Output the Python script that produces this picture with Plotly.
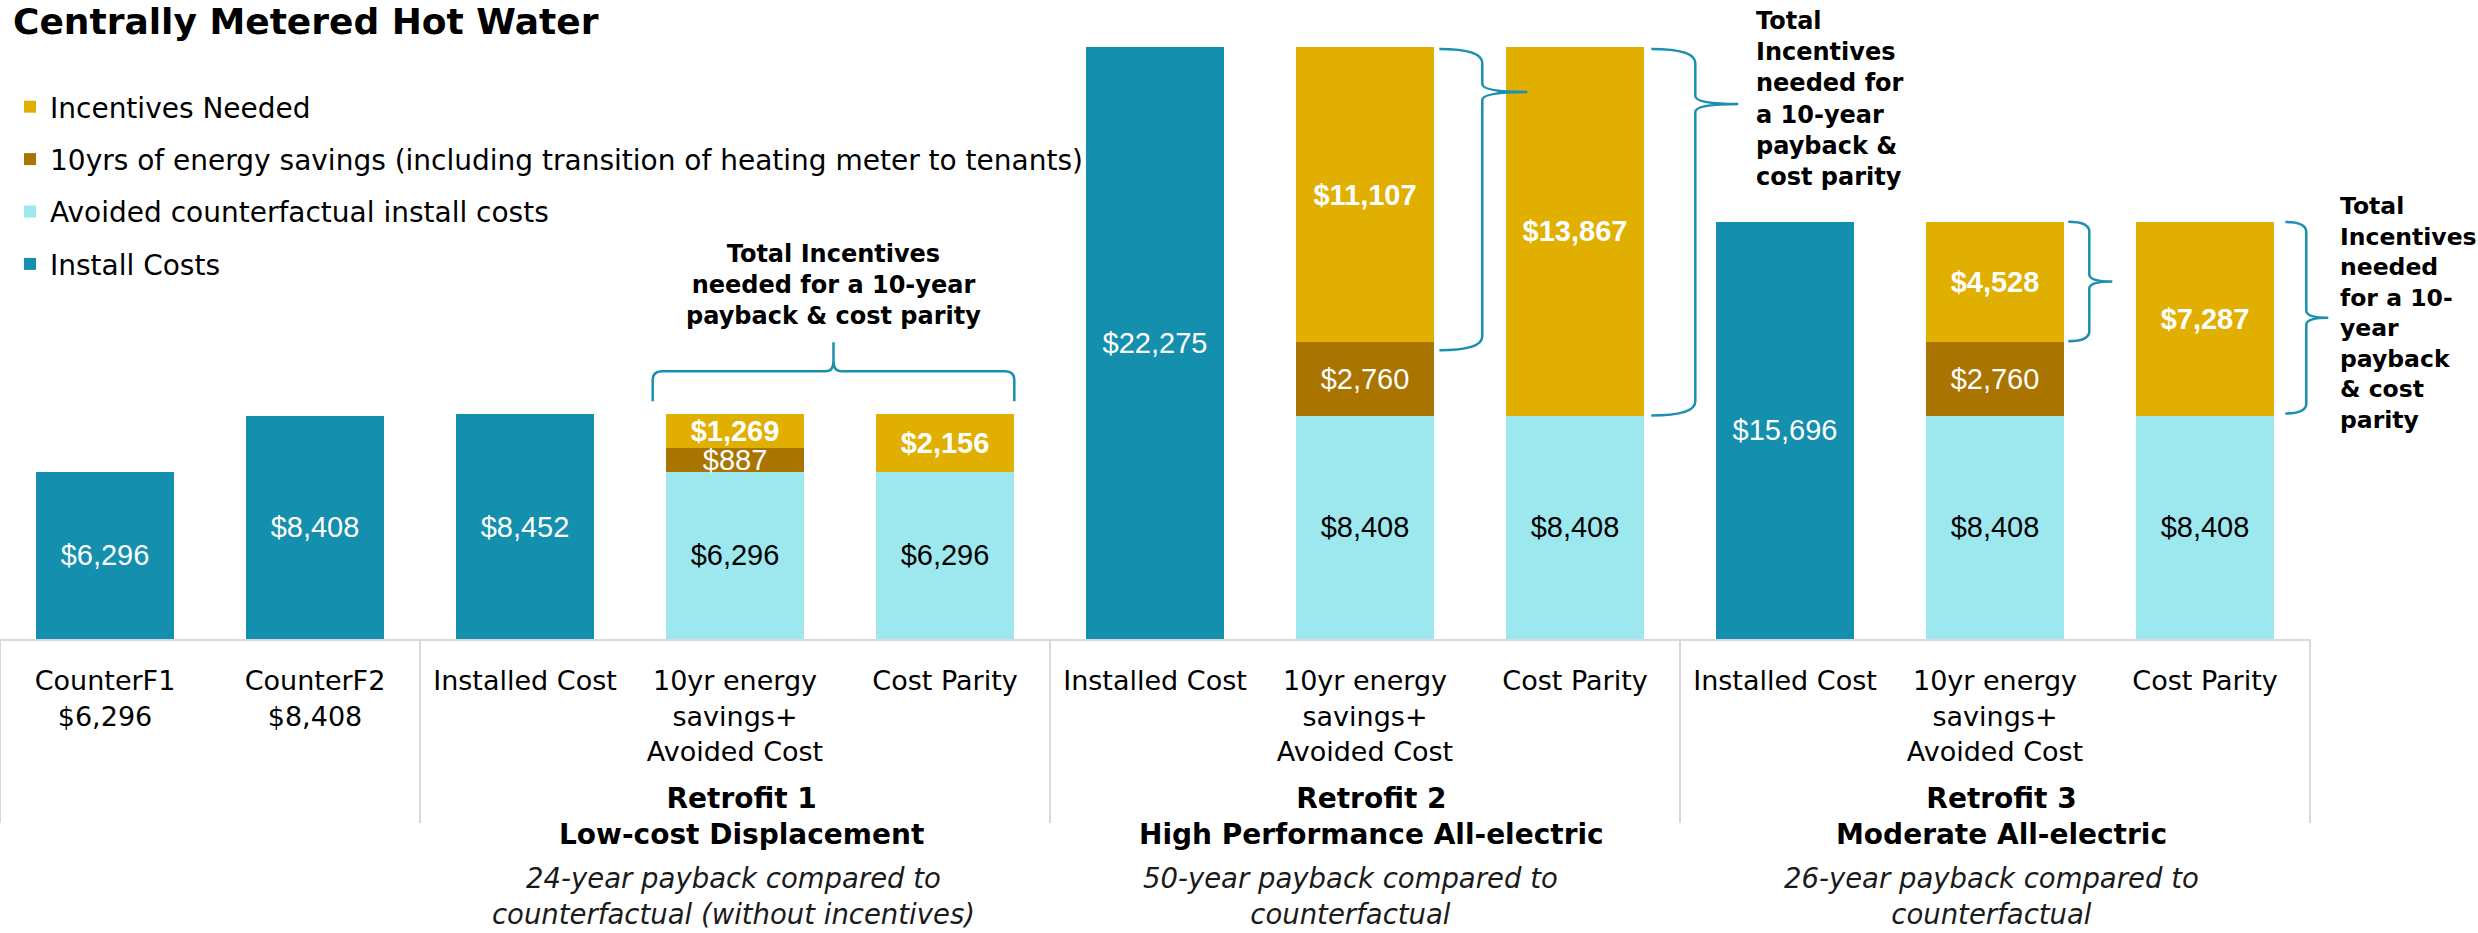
import plotly.graph_objects as go

# ---------------- data ----------------
title_text = "Centrally Metered Hot Water"
x_positions = list(range(11))
tick_labels = [
    "CounterF1<br>$6,296", "CounterF2<br>$8,408",
    "Installed Cost", "10yr energy<br>savings+<br>Avoided Cost", "Cost Parity",
    "Installed Cost", "10yr energy<br>savings+<br>Avoided Cost", "Cost Parity",
    "Installed Cost", "10yr energy<br>savings+<br>Avoided Cost", "Cost Parity",
]
install_costs = [6296, 8408, 8452, None, None, 22275, None, None, 15696, None, None]
avoided_costs = [None, None, None, 6296, 6296, None, 8408, 8408, None, 8408, 8408]
energy_savings = [None, None, None, 887, None, None, 2760, None, None, 2760, None]
incentives = [None, None, None, 1269, 2156, None, 11107, 13867, None, 4528, 7287]

series_names = [
    "Install Costs",
    "Avoided counterfactual install costs",
    "10yrs of energy savings (including transition of heating meter to tenants)",
    "Incentives Needed",
]
legend_ranks = [4, 3, 2, 1]
group_titles = [
    "Retrofit 1<br>Low-cost Displacement",
    "Retrofit 2<br>High Performance All-electric",
    "Retrofit 3<br>Moderate All-electric",
]
group_notes = [
    "24-year payback compared to<br>counterfactual (without incentives)",
    "50-year payback compared to<br>counterfactual",
    "26-year payback compared to<br>counterfactual",
]
group_centers = [3, 6, 9]
group_bounds = [-0.5, 1.5, 4.5, 7.5, 10.5]
brace_notes = [
    "Total Incentives<br>needed for a 10-year<br>payback & cost parity",
    "Total<br>Incentives<br>needed for<br>a 10-year<br>payback &<br>cost parity",
    "Total<br>Incentives<br>needed<br>for a 10-<br>year<br>payback<br>& cost<br>parity",
]

# ---------------- style / layout constants ----------------
FIG_W, FIG_H = 2478, 933
ML, MR, MT, MB = 0, 168, 47, 294
W = FIG_W - ML - MR
H = FIG_H - MT - MB
YMAX = 22275
XMIN, XMAX = -0.5, 10.5
BARGAP = 0.34

C_INSTALL = "#148FAE"
C_AVOID = "#9DE8EF"
C_SAVE = "#A97400"
C_INCENT = "#E1AF00"
C_BRACE = "#1A8FB0"
C_SEP = "#D9D9D9"

FONT = "DejaVu Sans"
NUMFONT = "Liberation Sans, Arial"


def fmt(vals):
    return [None if v is None else f"${v:,}" for v in vals]


def bx(xd):
    return ML + (xd - XMIN) / (XMAX - XMIN) * W


def vy(v):
    return MT + (1 - v / YMAX) * H


HALF = (1 - BARGAP) / 2 * W / (XMAX - XMIN)


def paper(xp, yp):
    return (xp - ML) / W, (MT + H - yp) / H


def P(xp, yp):
    a, b = paper(xp, yp)
    return f"{a:.6f},{b:.6f}"


def stack_top(i):
    return sum(v for v in (avoided_costs[i], energy_savings[i], incentives[i]) if v)


# ---------------- traces ----------------
fig = go.Figure()
trace_specs = [
    (install_costs, C_INSTALL, "white", "normal"),
    (avoided_costs, C_AVOID, "black", "normal"),
    (energy_savings, C_SAVE, "white", "normal"),
    (incentives, C_INCENT, "white", "bold"),
]
for name, rank, (vals, col, tcol, wt) in zip(series_names, legend_ranks, trace_specs):
    fig.add_trace(go.Bar(
        x=x_positions, y=vals, name=name, legendgroup=name, legendrank=rank,
        marker=dict(color=col, line=dict(width=0)),
        text=fmt(vals), textposition="inside", insidetextanchor="middle",
        textangle=0, constraintext="none",
        textfont=dict(family=NUMFONT, size=29, color=tcol, weight=wt),
        hoverinfo="skip",
    ))

# ---------------- shapes ----------------
shapes = []
sep_bottom = -(184) / H
for gb in group_bounds:
    xpap = (gb - XMIN) / (XMAX - XMIN)
    shapes.append(dict(type="line", xref="paper", yref="paper", x0=xpap, x1=xpap,
                       y0=0, y1=sep_bottom, line=dict(color=C_SEP, width=2), layer="below"))

# horizontal brace over Retrofit 1 (bars 3 and 4)
x0 = bx(3) - HALF - 13
x1 = bx(4) + HALF
top1 = max(stack_top(3), stack_top(4))
yb = vy(top1) - 13
ym = yb - 30
yt = yb - 59
xc = (x0 + x1) / 2
path_h = (f"M {P(x0, yb)} L {P(x0, ym + 9)} Q {P(x0, ym)} {P(x0 + 9, ym)} "
          f"L {P(xc - 8, ym)} Q {P(xc, ym)} {P(xc, ym - 10)} L {P(xc, yt)} "
          f"L {P(xc, ym - 10)} Q {P(xc, ym)} {P(xc + 8, ym)} "
          f"L {P(x1 - 9, ym)} Q {P(x1, ym)} {P(x1, ym + 9)} L {P(x1, yb)}")
shapes.append(dict(type="path", xref="paper", yref="paper", path=path_h,
                   line=dict(color=C_BRACE, width=2.5)))


def vbrace(bar, lo, hi, dx_end, dx_v, dx_tip, dy_top, dy_bot, tip_y, r, rt):
    right = bx(bar) + HALF
    xe, xv, xt = right + dx_end, right + dx_v, right + dx_tip
    y_top = vy(hi) + dy_top
    y_bot = vy(lo) + dy_bot
    y_tip = tip_y if tip_y is not None else (y_top + y_bot) / 2
    return (f"M {P(xe, y_top)} Q {P(xv, y_top)} {P(xv, y_top + r)} "
            f"L {P(xv, y_tip - rt)} Q {P(xv, y_tip)} {P(xt, y_tip)} "
            f"Q {P(xv, y_tip)} {P(xv, y_tip + rt)} "
            f"L {P(xv, y_bot - r)} Q {P(xv, y_bot)} {P(xe, y_bot)}")


braces_v = [
    vbrace(6, avoided_costs[6] + energy_savings[6], stack_top(6), 5, 48, 93, 2, 8, vy(stack_top(6)) + 45, 14, 8),
    vbrace(7, avoided_costs[7], stack_top(7), 7, 51, 94, 2, 0, vy(stack_top(7)) + 57, 14, 8),
    vbrace(9, avoided_costs[9] + energy_savings[9], stack_top(9), 4, 25, 48, 0, -1, None, 10, 7),
    vbrace(10, avoided_costs[10], stack_top(10), 11, 32, 54, 0, -2, None, 10, 7),
]
for pth in braces_v:
    shapes.append(dict(type="path", xref="paper", yref="paper", path=pth,
                       line=dict(color=C_BRACE, width=2.5)))

# ---------------- annotations ----------------
ann = []


def add_text(text, xp, yp, size, xanchor="center", bold=False, italic=False, color="black", align="center"):
    a, b = paper(xp, yp)
    ann.append(dict(text=text, x=a, y=b, xref="paper", yref="paper",
                    xanchor=xanchor, yanchor="middle", showarrow=False, align=align,
                    font=dict(family=FONT, size=size, color=color,
                              weight="bold" if bold else "normal",
                              style="italic" if italic else "normal")))


add_text(title_text, 11, 21, 36, xanchor="left", bold=True)

note_x = [733, 1350, 1991]
for gt, gn, gc, nx in zip(group_titles, group_notes, group_centers, note_x):
    add_text(gt, bx(gc) + 6, 816, 28, bold=True)
    add_text(gn, nx, 896, 27.5, italic=True, color="#1a1a1a")

add_text(brace_notes[0], xc, 285, 24, bold=True)
add_text(brace_notes[1], 1754, 99, 24, xanchor="left", bold=True, align="left")
add_text(brace_notes[2], 2338, 313, 23.5, xanchor="left", bold=True, align="left")

# ---------------- layout ----------------
fig.update_layout(
    width=FIG_W, height=FIG_H,
    barmode="stack", bargap=BARGAP,
    plot_bgcolor="white", paper_bgcolor="white",
    margin=dict(l=ML, r=MR, t=MT, b=MB, autoexpand=False),
    font=dict(family=FONT, color="black"),
    showlegend=True,
    legend=dict(x=10 / W, xanchor="left", y=(MT + H - 82) / H, yanchor="top",
                font=dict(family=FONT, size=28, color="black"),
                traceorder="grouped", tracegroupgap=13,
                bgcolor="rgba(0,0,0,0)", borderwidth=0),
    xaxis=dict(range=[XMIN, XMAX], tickmode="array", tickvals=x_positions, ticktext=tick_labels,
               showline=True, linecolor=C_SEP, linewidth=2, ticks="outside", ticklen=17,
               tickcolor="rgba(0,0,0,0)", tickfont=dict(family=FONT, size=27, color="black"),
               showgrid=False, zeroline=False, fixedrange=True),
    yaxis=dict(range=[0, YMAX], visible=False, showgrid=False, zeroline=False, fixedrange=True),
    shapes=shapes,
    annotations=ann,
)

fig.write_html(
    "out.html",
    config={"displayModeBar": False},
    post_script="document.body.style.margin='0';document.body.style.overflow='hidden';",
)
